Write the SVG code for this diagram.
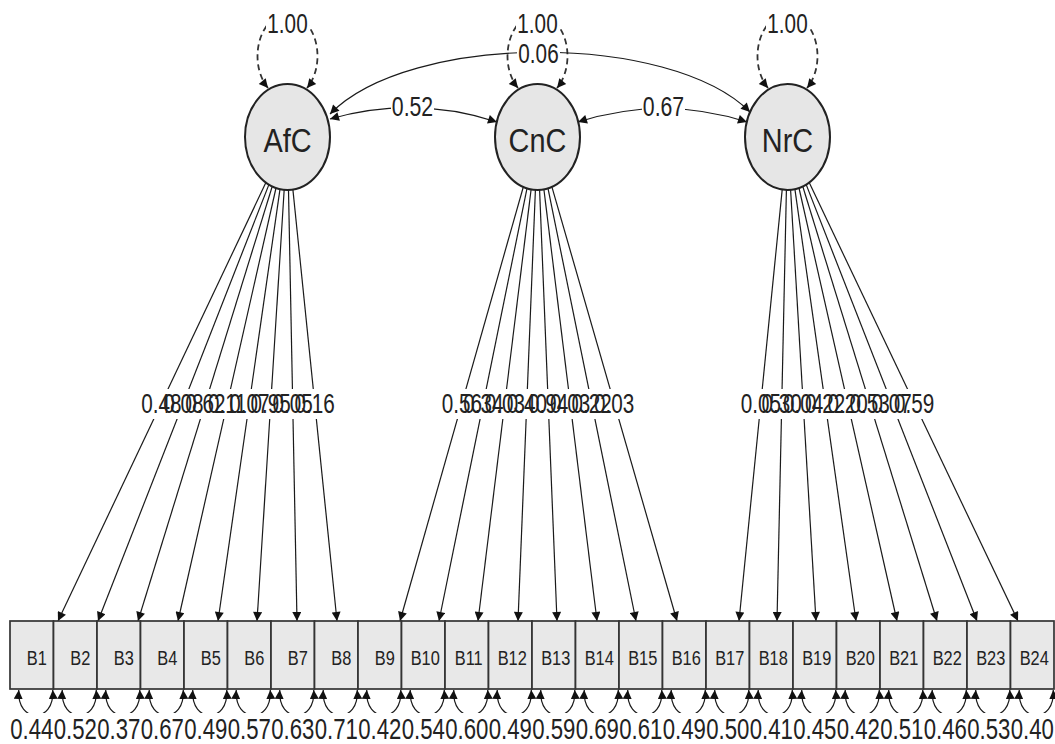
<svg xmlns="http://www.w3.org/2000/svg" width="1055" height="744" viewBox="0 0 1055 744">
<style>
.ln{stroke:#1a1a1a;stroke-width:1.2;fill:none}
.dash{stroke:#333;stroke-width:1.8;fill:none;stroke-dasharray:6 4}
.nd{fill:#e6e6e6;stroke:#222;stroke-width:2}
.bx{fill:#e8e8e8;stroke:#333;stroke-width:1.7}
.t{font-family:"Liberation Sans",Arial,sans-serif;fill:#222;text-anchor:middle}
.num{font-size:28px}
.res{font-size:30px}
.lat{font-size:34px}
.obs{font-size:21px}
.bg{fill:#fff}
</style>
<defs>
<marker id="a" viewBox="0 0 10 10" refX="10" refY="5" markerWidth="12" markerHeight="9" markerUnits="userSpaceOnUse" orient="auto-start-reverse"><path d="M0,0L10,5L0,10z" fill="#111"/></marker>
<marker id="s" viewBox="0 0 10 10" refX="10" refY="5" markerWidth="9" markerHeight="9" markerUnits="userSpaceOnUse" orient="auto-start-reverse"><path d="M0,0L10,5L0,10z" fill="#111"/></marker>
</defs>
<rect width="1055" height="744" fill="#fff"/>
<g id="connectors">
<g class="dash" marker-start="url(#a)" marker-end="url(#a)">
<path d="M268,88 A30 42 0 1 1 307,88"/>
<path d="M518,88 A30 42 0 1 1 557,88"/>
<path d="M768,88 A30 42 0 1 1 807,88"/>
</g>
<g class="ln" marker-start="url(#a)" marker-end="url(#a)">
<path d="M330,119 Q414,95 497,122"/>
<path d="M578,122 Q663,95 747,122"/>
<path d="M330,114 C410,32 670,32 750,112"/>
</g>
<g class="ln" marker-end="url(#a)">
<path d="M265.9,182.6 L58,621"/>
<path d="M268.9,184.6 L98,621"/>
<path d="M272.2,186.5 L138,621"/>
<path d="M276.0,188.0 L178,621"/>
<path d="M280.0,189.2 L218,621"/>
<path d="M284.2,189.8 L257,621"/>
<path d="M288.5,190.0 L297,621"/>
<path d="M292.9,189.6 L337,621"/>
<path d="M523.3,187.0 L400,621"/>
<path d="M527.0,188.4 L439,621"/>
<path d="M531.1,189.4 L478,621"/>
<path d="M535.4,189.9 L518,621"/>
<path d="M539.6,189.9 L557,621"/>
<path d="M543.9,189.4 L597,621"/>
<path d="M548.0,188.4 L636,621"/>
<path d="M551.9,186.9 L677,621"/>
<path d="M782.2,189.6 L739,621"/>
<path d="M786.4,190.0 L777,621"/>
<path d="M790.6,189.9 L816,621"/>
<path d="M794.9,189.2 L856,621"/>
<path d="M799.0,188.0 L897,621"/>
<path d="M802.8,186.5 L937,621"/>
<path d="M806.2,184.6 L977,621"/>
<path d="M809.2,182.6 L1018,621"/>
</g>
<g class="ln" marker-start="url(#s)" marker-end="url(#s)">
<path d="M18.75,690 C16.75,724 54.75,724 52.75,690"/>
<path d="M62.25,690 C60.25,724 98.25,724 96.25,690"/>
<path d="M105.75,690 C103.75,724 141.75,724 139.75,690"/>
<path d="M149.25,690 C147.25,724 185.25,724 183.25,690"/>
<path d="M192.75,690 C190.75,724 228.75,724 226.75,690"/>
<path d="M236.25,690 C234.25,724 272.25,724 270.25,690"/>
<path d="M279.75,690 C277.75,724 315.75,724 313.75,690"/>
<path d="M323.25,690 C321.25,724 359.25,724 357.25,690"/>
<path d="M366.75,690 C364.75,724 402.75,724 400.75,690"/>
<path d="M410.25,690 C408.25,724 446.25,724 444.25,690"/>
<path d="M453.75,690 C451.75,724 489.75,724 487.75,690"/>
<path d="M497.25,690 C495.25,724 533.25,724 531.25,690"/>
<path d="M540.75,690 C538.75,724 576.75,724 574.75,690"/>
<path d="M584.25,690 C582.25,724 620.25,724 618.25,690"/>
<path d="M627.75,690 C625.75,724 663.75,724 661.75,690"/>
<path d="M671.25,690 C669.25,724 707.25,724 705.25,690"/>
<path d="M714.75,690 C712.75,724 750.75,724 748.75,690"/>
<path d="M758.25,690 C756.25,724 794.25,724 792.25,690"/>
<path d="M801.75,690 C799.75,724 837.75,724 835.75,690"/>
<path d="M845.25,690 C843.25,724 881.25,724 879.25,690"/>
<path d="M888.75,690 C886.75,724 924.75,724 922.75,690"/>
<path d="M932.25,690 C930.25,724 968.25,724 966.25,690"/>
<path d="M975.75,690 C973.75,724 1011.75,724 1009.75,690"/>
<path d="M1019.25,690 C1017.25,724 1055.25,724 1053.25,690"/>
</g>
<g id="edge-labels">
<rect class="bg" x="266" y="12" width="43" height="23"/>
<rect class="bg" x="516" y="12" width="43" height="23"/>
<rect class="bg" x="766" y="12" width="43" height="23"/>
<rect class="bg" x="517" y="42" width="43" height="22"/>
<rect class="bg" x="391" y="97" width="43" height="22"/>
<rect class="bg" x="642" y="97" width="43" height="22"/>
<rect class="bg" x="140" y="389" width="196" height="30"/>
<rect class="bg" x="441" y="389" width="194" height="30"/>
<rect class="bg" x="740" y="389" width="195" height="30"/>
<rect class="bg" x="0" y="713" width="1055" height="31"/>
<g class="t num">
<text transform="translate(287.5 33) scale(0.74 1)">1.00</text>
<text transform="translate(537.5 33) scale(0.74 1)">1.00</text>
<text transform="translate(787.5 33) scale(0.74 1)">1.00</text>
<text transform="translate(538.5 63) scale(0.74 1)">0.06</text>
<text transform="translate(412.5 116) scale(0.76 1)">0.52</text>
<text transform="translate(663.5 116) scale(0.76 1)">0.67</text>
<text transform="translate(161.4 413) scale(0.74 1)">0.48</text>
<text transform="translate(183.4 413) scale(0.74 1)">0.08</text>
<text transform="translate(205.3 413) scale(0.74 1)">0.62</text>
<text transform="translate(227.3 413) scale(0.74 1)">0.11</text>
<text transform="translate(249.3 413) scale(0.74 1)">0.07</text>
<text transform="translate(270.7 413) scale(0.74 1)">0.95</text>
<text transform="translate(292.7 413) scale(0.74 1)">0.05</text>
<text transform="translate(314.7 413) scale(0.74 1)">0.16</text>
<text transform="translate(461.9 413) scale(0.74 1)">0.56</text>
<text transform="translate(483.4 413) scale(0.74 1)">0.34</text>
<text transform="translate(504.8 413) scale(0.74 1)">0.03</text>
<text transform="translate(526.8 413) scale(0.74 1)">0.40</text>
<text transform="translate(548.2 413) scale(0.74 1)">0.94</text>
<text transform="translate(570.2 413) scale(0.74 1)">0.03</text>
<text transform="translate(591.6 413) scale(0.74 1)">0.22</text>
<text transform="translate(614.2 413) scale(0.74 1)">0.03</text>
<text transform="translate(760.8 413) scale(0.74 1)">0.05</text>
<text transform="translate(781.7 413) scale(0.74 1)">0.30</text>
<text transform="translate(803.2 413) scale(0.74 1)">0.04</text>
<text transform="translate(825.1 413) scale(0.74 1)">0.22</text>
<text transform="translate(847.7 413) scale(0.74 1)">0.20</text>
<text transform="translate(869.7 413) scale(0.74 1)">0.53</text>
<text transform="translate(891.6 413) scale(0.74 1)">0.07</text>
<text transform="translate(914.2 413) scale(0.74 1)">0.59</text>
</g>
<g class="t res">
<text transform="translate(31.75 739) scale(0.74 1)">0.44</text>
<text transform="translate(75.25 739) scale(0.74 1)">0.52</text>
<text transform="translate(118.75 739) scale(0.74 1)">0.37</text>
<text transform="translate(162.25 739) scale(0.74 1)">0.67</text>
<text transform="translate(205.75 739) scale(0.74 1)">0.49</text>
<text transform="translate(249.25 739) scale(0.74 1)">0.57</text>
<text transform="translate(292.75 739) scale(0.74 1)">0.63</text>
<text transform="translate(336.25 739) scale(0.74 1)">0.71</text>
<text transform="translate(379.75 739) scale(0.74 1)">0.42</text>
<text transform="translate(423.25 739) scale(0.74 1)">0.54</text>
<text transform="translate(466.75 739) scale(0.74 1)">0.60</text>
<text transform="translate(510.25 739) scale(0.74 1)">0.49</text>
<text transform="translate(553.75 739) scale(0.74 1)">0.59</text>
<text transform="translate(597.25 739) scale(0.74 1)">0.69</text>
<text transform="translate(640.75 739) scale(0.74 1)">0.61</text>
<text transform="translate(684.25 739) scale(0.74 1)">0.49</text>
<text transform="translate(727.75 739) scale(0.74 1)">0.50</text>
<text transform="translate(771.25 739) scale(0.74 1)">0.41</text>
<text transform="translate(814.75 739) scale(0.74 1)">0.45</text>
<text transform="translate(858.25 739) scale(0.74 1)">0.42</text>
<text transform="translate(901.75 739) scale(0.74 1)">0.51</text>
<text transform="translate(945.25 739) scale(0.74 1)">0.46</text>
<text transform="translate(988.75 739) scale(0.74 1)">0.53</text>
<text transform="translate(1032.25 739) scale(0.74 1)">0.40</text>
</g>
</g>
</g>
<g id="AfC"><ellipse class="nd" cx="287.5" cy="137" rx="42.5" ry="53"/><text class="t lat" transform="translate(287.5 152) scale(0.85 1)">AfC</text></g>
<g id="CnC"><ellipse class="nd" cx="537.5" cy="137" rx="42.5" ry="53"/><text class="t lat" transform="translate(537.5 152) scale(0.85 1)">CnC</text></g>
<g id="NrC"><ellipse class="nd" cx="787.5" cy="137" rx="42.5" ry="53"/><text class="t lat" transform="translate(787.5 152) scale(0.85 1)">NrC</text></g>
<g id="B1"><rect class="bx" x="10" y="621" width="43.5" height="68"/><text class="t obs" transform="translate(36.75 665) scale(0.78 1)">B1</text></g>
<g id="B2"><rect class="bx" x="53.5" y="621" width="43.5" height="68"/><text class="t obs" transform="translate(80.25 665) scale(0.78 1)">B2</text></g>
<g id="B3"><rect class="bx" x="97" y="621" width="43.5" height="68"/><text class="t obs" transform="translate(123.75 665) scale(0.78 1)">B3</text></g>
<g id="B4"><rect class="bx" x="140.5" y="621" width="43.5" height="68"/><text class="t obs" transform="translate(167.25 665) scale(0.78 1)">B4</text></g>
<g id="B5"><rect class="bx" x="184" y="621" width="43.5" height="68"/><text class="t obs" transform="translate(210.75 665) scale(0.78 1)">B5</text></g>
<g id="B6"><rect class="bx" x="227.5" y="621" width="43.5" height="68"/><text class="t obs" transform="translate(254.25 665) scale(0.78 1)">B6</text></g>
<g id="B7"><rect class="bx" x="271" y="621" width="43.5" height="68"/><text class="t obs" transform="translate(297.75 665) scale(0.78 1)">B7</text></g>
<g id="B8"><rect class="bx" x="314.5" y="621" width="43.5" height="68"/><text class="t obs" transform="translate(341.25 665) scale(0.78 1)">B8</text></g>
<g id="B9"><rect class="bx" x="358" y="621" width="43.5" height="68"/><text class="t obs" transform="translate(384.75 665) scale(0.78 1)">B9</text></g>
<g id="B10"><rect class="bx" x="401.5" y="621" width="43.5" height="68"/><text class="t obs" transform="translate(425.25 665) scale(0.78 1)">B10</text></g>
<g id="B11"><rect class="bx" x="445" y="621" width="43.5" height="68"/><text class="t obs" transform="translate(468.75 665) scale(0.78 1)">B11</text></g>
<g id="B12"><rect class="bx" x="488.5" y="621" width="43.5" height="68"/><text class="t obs" transform="translate(512.25 665) scale(0.78 1)">B12</text></g>
<g id="B13"><rect class="bx" x="532" y="621" width="43.5" height="68"/><text class="t obs" transform="translate(555.75 665) scale(0.78 1)">B13</text></g>
<g id="B14"><rect class="bx" x="575.5" y="621" width="43.5" height="68"/><text class="t obs" transform="translate(599.25 665) scale(0.78 1)">B14</text></g>
<g id="B15"><rect class="bx" x="619" y="621" width="43.5" height="68"/><text class="t obs" transform="translate(642.75 665) scale(0.78 1)">B15</text></g>
<g id="B16"><rect class="bx" x="662.5" y="621" width="43.5" height="68"/><text class="t obs" transform="translate(686.25 665) scale(0.78 1)">B16</text></g>
<g id="B17"><rect class="bx" x="706" y="621" width="43.5" height="68"/><text class="t obs" transform="translate(729.75 665) scale(0.78 1)">B17</text></g>
<g id="B18"><rect class="bx" x="749.5" y="621" width="43.5" height="68"/><text class="t obs" transform="translate(773.25 665) scale(0.78 1)">B18</text></g>
<g id="B19"><rect class="bx" x="793" y="621" width="43.5" height="68"/><text class="t obs" transform="translate(816.75 665) scale(0.78 1)">B19</text></g>
<g id="B20"><rect class="bx" x="836.5" y="621" width="43.5" height="68"/><text class="t obs" transform="translate(860.25 665) scale(0.78 1)">B20</text></g>
<g id="B21"><rect class="bx" x="880" y="621" width="43.5" height="68"/><text class="t obs" transform="translate(903.75 665) scale(0.78 1)">B21</text></g>
<g id="B22"><rect class="bx" x="923.5" y="621" width="43.5" height="68"/><text class="t obs" transform="translate(947.25 665) scale(0.78 1)">B22</text></g>
<g id="B23"><rect class="bx" x="967" y="621" width="43.5" height="68"/><text class="t obs" transform="translate(990.75 665) scale(0.78 1)">B23</text></g>
<g id="B24"><rect class="bx" x="1010.5" y="621" width="43.5" height="68"/><text class="t obs" transform="translate(1034.25 665) scale(0.78 1)">B24</text></g>
</svg>
